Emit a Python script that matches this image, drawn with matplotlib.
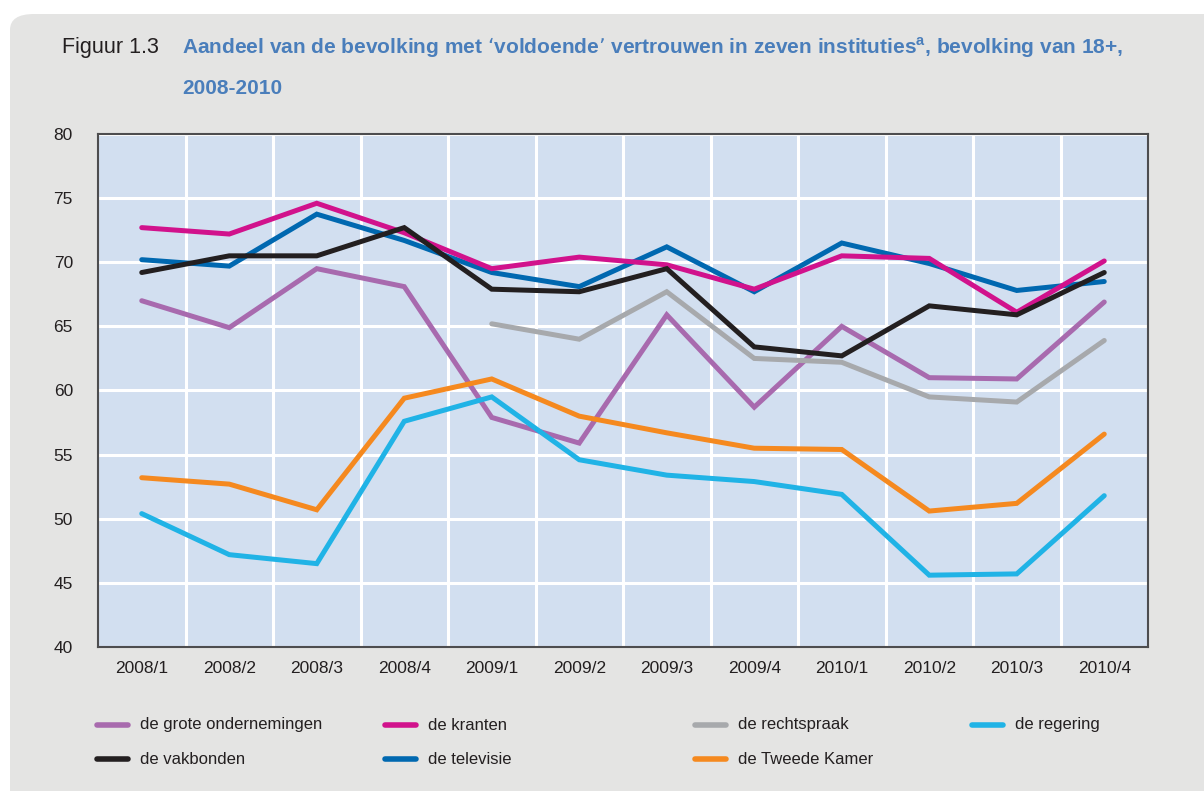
import numpy as np
import matplotlib
matplotlib.use("Agg")
import matplotlib.pyplot as plt
from matplotlib.patches import FancyBboxPatch
from matplotlib.lines import Line2D

plt.rcParams["font.family"] = ["Liberation Sans Narrow", "Liberation Sans", "DejaVu Sans"]

# --- data -------------------------------------------------------------
quarters = ["2008/1", "2008/2", "2008/3", "2008/4", "2009/1", "2009/2",
            "2009/3", "2009/4", "2010/1", "2010/2", "2010/3", "2010/4"]

grote_ondernemingen = [67.0, 64.9, 69.5, 68.1, 57.9, 55.9, 65.9, 58.7, 65.0, 61.0, 60.9, 66.9]
kranten = [72.7, 72.2, 74.6, 72.3, 69.5, 70.4, 69.8, 67.9, 70.5, 70.3, 66.1, 70.1]
rechtspraak = [np.nan, np.nan, np.nan, np.nan, 65.2, 64.0, 67.7, 62.5, 62.2, 59.5, 59.1, 63.9]
regering = [50.4, 47.2, 46.5, 57.6, 59.5, 54.6, 53.4, 52.9, 51.9, 45.6, 45.7, 51.8]
vakbonden = [69.2, 70.5, 70.5, 72.7, 67.9, 67.7, 69.5, 63.4, 62.7, 66.6, 65.9, 69.2]
televisie = [70.2, 69.7, 73.75, 71.7, 69.2, 68.1, 71.2, 67.7, 71.5, 69.9, 67.8, 68.5]
tweede_kamer = [53.2, 52.7, 50.7, 59.4, 60.9, 58.0, 56.7, 55.5, 55.4, 50.6, 51.2, 56.6]

# (label, values, colour) in legend order
series = [
    ("de grote ondernemingen", grote_ondernemingen, "#a86aae"),
    ("de kranten", kranten, "#d1128c"),
    ("de rechtspraak", rechtspraak, "#a7a9ac"),
    ("de regering", regering, "#20b3e6"),
    ("de vakbonden", vakbonden, "#231f20"),
    ("de televisie", televisie, "#0068b0"),
    ("de Tweede Kamer", tweede_kamer, "#f5891f"),
]
zorder = {"de televisie": 3, "de kranten": 4, "de vakbonden": 5}

# --- figure -----------------------------------------------------------
fig = plt.figure(figsize=(12.04, 7.91), dpi=100)
fig.patch.set_facecolor("white")
panel = FancyBboxPatch((10 / 1204, -0.05), 1.2, 1.05 - 14 / 791,
                       boxstyle="round,pad=0,rounding_size=0.02",
                       transform=fig.transFigure, facecolor="#e4e4e3",
                       edgecolor="none", zorder=-10)
fig.patches.append(panel)

fig.text(62 / 1204, 1 - 48 / 791, "Figuur 1.3", fontsize=15.5, color="#231f20",
         va="center", ha="left")
fig.text(182 / 1204, 1 - 48 / 791,
         "Aandeel van de bevolking met \u2018voldoende\u2019 vertrouwen in zeven instituties$^{\\mathregular{a}}$, bevolking van 18+,",
         fontsize=15, color="#4a7ebb", va="center", ha="left", fontweight="bold")
fig.text(182 / 1204, 1 - 88 / 791, "2008-2010", fontsize=15, color="#4a7ebb",
         va="center", ha="left", fontweight="bold")

ax = fig.add_axes([98 / 1204, 1 - 647 / 791, 1050 / 1204, 513 / 791])
ax.set_facecolor("#d2dff0")

x = np.arange(len(quarters))
for label, vals, col in series:
    ax.plot(x, vals, color=col, lw=3.6, zorder=zorder.get(label, 2),
            solid_joinstyle="miter", solid_capstyle="round")

ax.set_xlim(-0.5, len(quarters) - 0.5)
ax.set_ylim(40, 80)
ax.set_yticks(range(40, 81, 5))
ax.set_xticks(x)
ax.set_xticklabels(quarters)
ax.set_xticks(x[:-1] + 0.5, minor=True)
ax.grid(True, axis="y", which="major", color="white", lw=2.2, zorder=1)
ax.grid(True, axis="x", which="minor", color="white", lw=2.2, zorder=1)
ax.set_axisbelow(True)
ax.tick_params(axis="both", which="both", length=0, labelsize=12.5, colors="#231f20")
ax.tick_params(axis="x", pad=10)
ax.tick_params(axis="y", pad=18)
for s in ax.spines.values():
    s.set_color("#4d4d4f")
    s.set_linewidth(1.5)

# --- legend (manual, fixed columns) --------------------------------------
col_x = [97, 385, 695, 972]
row_y = [725, 759]
for i, (label, vals, col) in enumerate(series):
    r, c = (0, i) if i < 4 else (1, i - 4)
    x0 = col_x[c] / 1204
    y0 = 1 - row_y[r] / 791
    fig.add_artist(Line2D([x0, x0 + 31 / 1204], [y0, y0], transform=fig.transFigure,
                          color=col, lw=4, solid_capstyle="round"))
    fig.text(x0 + 43 / 1204, y0, label, fontsize=12, color="#231f20",
             va="center", ha="left")

fig.savefig("out.png", dpi=100, facecolor=fig.get_facecolor())
